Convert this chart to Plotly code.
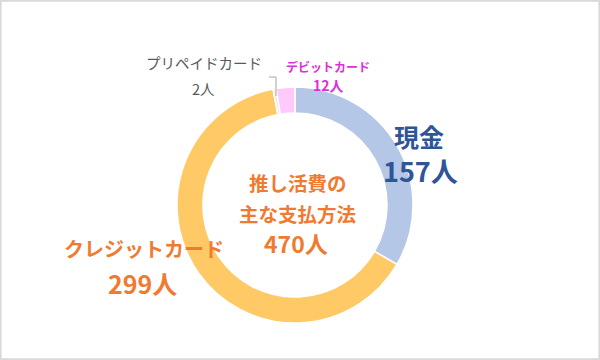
import plotly.graph_objects as go

labels = ["現金", "クレジットカード", "プリペイドカード", "デビットカード"]
values = [157, 299, 2, 12]
colors = ["#B4C7E7", "#FFC966", "#E8E8E8", "#FFC9FB"]
total_title = ["推し活費の", "主な支払方法"]
unit = "人"

W, H = 600, 360
cx, cy, R = 295, 205, 118

def px(x):
    return x / W

def py(y):
    return 1 - y / H

fig = go.Figure()
fig.add_trace(go.Pie(
    labels=labels, values=values, sort=False, direction="clockwise", rotation=0,
    hole=0.78, marker=dict(colors=colors, line=dict(color="white", width=1.5)),
    textinfo="none", hoverinfo="label+value", showlegend=False,
    domain=dict(x=[px(cx - R), px(cx + R)], y=[py(cy + R), py(cy - R)]),
))

font = "Noto Sans CJK JP"
ann = []
def add(x, y, text, size, color, bold=True):
    ann.append(dict(x=px(x), y=py(y), xref="paper", yref="paper", showarrow=False,
                    text=("<b>%s</b>" % text) if bold else text,
                    font=dict(family=font, size=size, color=color),
                    xanchor="center", yanchor="middle"))

add(419, 136, labels[0], 25, "#2F5597")
add(420, 170, f"{values[0]}{unit}", 27, "#2F5597")
add(144, 248, labels[1], 20, "#F07A30")
add(142, 283, f"{values[1]}{unit}", 25, "#F07A30")
add(204, 62, labels[2], 14.5, "#595959", bold=False)
add(203, 88, f"{values[2]}{unit}", 14.5, "#595959", bold=False)
add(328, 66, labels[3], 12, "#E02DD8")
add(328, 85, f"{values[3]}{unit}", 14, "#E02DD8")
add(298, 182, total_title[0], 19.5, "#F07A30")
add(298, 213, total_title[1], 19.5, "#F07A30")
add(296, 243, f"{sum(values)}{unit}", 23, "#F07A30")

shapes = [
    dict(type="path", xref="paper", yref="paper",
         path=f"M {px(269)} {py(77)} L {px(276)} {py(77)} L {px(276)} {py(96)}",
         line=dict(color="#A6A6A6", width=1)),
    dict(type="rect", xref="paper", yref="paper", x0=0.001, y0=0.002, x1=0.999, y1=0.998,
         line=dict(color="#D9D9D9", width=2)),
]

fig.update_layout(width=W, height=H, margin=dict(l=0, r=0, t=0, b=0),
                  paper_bgcolor="white", plot_bgcolor="white",
                  annotations=ann, shapes=shapes)
fig.write_html("out.html", config={"displayModeBar": False},
               post_script="document.body.style.margin='0';document.body.style.overflow='hidden';")
